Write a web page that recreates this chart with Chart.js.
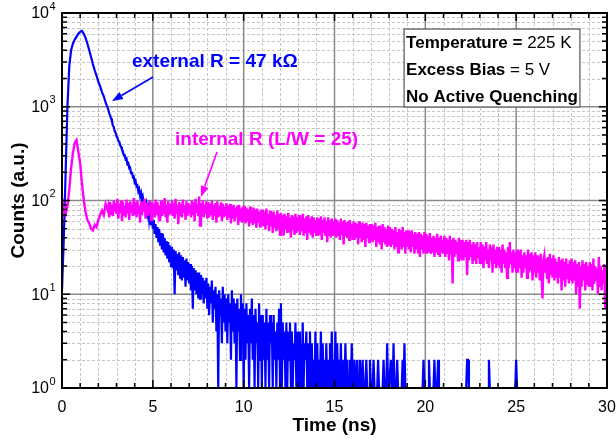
<!DOCTYPE html>
<html><head><meta charset="utf-8">
<script src="https://cdn.jsdelivr.net/npm/chart.js@4.4.0/dist/chart.umd.min.js"></script>
<style>html,body{margin:0;padding:0;background:#fff}canvas{display:block}</style>
</head><body>
<canvas id="c" width="616" height="443"></canvas>
<script>
const FONT = "'Liberation Sans', Arial, Helvetica, sans-serif";

// sample times (ns): 0.1 ns steps up to 2.5 ns, then 0.05 ns steps
const timeNs = [
0,0.1,0.2,0.3,0.4,0.5,0.6,0.7,0.8,0.9,
1,1.1,1.2,1.3,1.4,1.5,1.6,1.7,1.8,1.9,
2,2.1,2.2,2.3,2.4,2.5,
2.55,2.6,2.65,2.7,2.75,2.8,2.85,2.9,2.95,3,
3.05,3.1,3.15,3.2,3.25,3.3,3.35,3.4,3.45,3.5,3.55,3.6,3.65,3.7,3.75,3.8,3.85,3.9,3.95,4,
4.05,4.1,4.15,4.2,4.25,4.3,4.35,4.4,4.45,4.5,4.55,4.6,4.65,4.7,4.75,4.8,4.85,4.9,4.95,5,
5.05,5.1,5.15,5.2,5.25,5.3,5.35,5.4,5.45,5.5,5.55,5.6,5.65,5.7,5.75,5.8,5.85,5.9,5.95,6,
6.05,6.1,6.15,6.2,6.25,6.3,6.35,6.4,6.45,6.5,6.55,6.6,6.65,6.7,6.75,6.8,6.85,6.9,6.95,7,
7.05,7.1,7.15,7.2,7.25,7.3,7.35,7.4,7.45,7.5,7.55,7.6,7.65,7.7,7.75,7.8,7.85,7.9,7.95,8,
8.05,8.1,8.15,8.2,8.25,8.3,8.35,8.4,8.45,8.5,8.55,8.6,8.65,8.7,8.75,8.8,8.85,8.9,8.95,9,
9.05,9.1,9.15,9.2,9.25,9.3,9.35,9.4,9.45,9.5,9.55,9.6,9.65,9.7,9.75,9.8,9.85,9.9,9.95,10,
10.05,10.1,10.15,10.2,10.25,10.3,10.35,10.4,10.45,10.5,10.55,10.6,10.65,10.7,10.75,10.8,10.85,10.9,10.95,11,
11.05,11.1,11.15,11.2,11.25,11.3,11.35,11.4,11.45,11.5,11.55,11.6,11.65,11.7,11.75,11.8,11.85,11.9,11.95,12,
12.05,12.1,12.15,12.2,12.25,12.3,12.35,12.4,12.45,12.5,12.55,12.6,12.65,12.7,12.75,12.8,12.85,12.9,12.95,13,
13.05,13.1,13.15,13.2,13.25,13.3,13.35,13.4,13.45,13.5,13.55,13.6,13.65,13.7,13.75,13.8,13.85,13.9,13.95,14,
14.05,14.1,14.15,14.2,14.25,14.3,14.35,14.4,14.45,14.5,14.55,14.6,14.65,14.7,14.75,14.8,14.85,14.9,14.95,15,
15.05,15.1,15.15,15.2,15.25,15.3,15.35,15.4,15.45,15.5,15.55,15.6,15.65,15.7,15.75,15.8,15.85,15.9,15.95,16,
16.05,16.1,16.15,16.2,16.25,16.3,16.35,16.4,16.45,16.5,16.55,16.6,16.65,16.7,16.75,16.8,16.85,16.9,16.95,17,
17.05,17.1,17.15,17.2,17.25,17.3,17.35,17.4,17.45,17.5,17.55,17.6,17.65,17.7,17.75,17.8,17.85,17.9,17.95,18,
18.05,18.1,18.15,18.2,18.25,18.3,18.35,18.4,18.45,18.5,18.55,18.6,18.65,18.7,18.75,18.8,18.85,18.9,18.95,19,
19.05,19.1,19.15,19.2,19.25,19.3,19.35,19.4,19.45,19.5,19.55,19.6,19.65,19.7,19.75,19.8,19.85,19.9,19.95,20,
20.05,20.1,20.15,20.2,20.25,20.3,20.35,20.4,20.45,20.5,20.55,20.6,20.65,20.7,20.75,20.8,20.85,20.9,20.95,21,
21.05,21.1,21.15,21.2,21.25,21.3,21.35,21.4,21.45,21.5,21.55,21.6,21.65,21.7,21.75,21.8,21.85,21.9,21.95,22,
22.05,22.1,22.15,22.2,22.25,22.3,22.35,22.4,22.45,22.5,22.55,22.6,22.65,22.7,22.75,22.8,22.85,22.9,22.95,23,
23.05,23.1,23.15,23.2,23.25,23.3,23.35,23.4,23.45,23.5,23.55,23.6,23.65,23.7,23.75,23.8,23.85,23.9,23.95,24,
24.05,24.1,24.15,24.2,24.25,24.3,24.35,24.4,24.45,24.5,24.55,24.6,24.65,24.7,24.75,24.8,24.85,24.9,24.95,25,
25.05,25.1,25.15,25.2,25.25,25.3,25.35,25.4,25.45,25.5,25.55,25.6,25.65,25.7,25.75,25.8,25.85,25.9,25.95,26,
26.05,26.1,26.15,26.2,26.25,26.3,26.35,26.4,26.45,26.5,26.55,26.6,26.65,26.7,26.75,26.8,26.85,26.9,26.95,27,
27.05,27.1,27.15,27.2,27.25,27.3,27.35,27.4,27.45,27.5,27.55,27.6,27.65,27.7,27.75,27.8,27.85,27.9,27.95,28,
28.05,28.1,28.15,28.2,28.25,28.3,28.35,28.4,28.45,28.5,28.55,28.6,28.65,28.7,28.75,28.8,28.85,28.9,28.95,29,
29.05,29.1,29.15,29.2,29.25,29.3,29.35,29.4,29.45,29.5,29.55,29.6,29.65,29.7,29.75,29.8,29.85,29.9,29.95,30];

// external R = 47 kOhm (counts; points sitting on the bottom edge read as 1)
const externalR = [
11,40,200,1000,2700,4000,4700,5200,5600,6000,
6300,6450,6000,5400,4700,4000,3400,2850,2450,2150,
1850,1650,1430,1290,1110,990,
930,850,810,750,700,630,610,550,530,485,
470,430,425,390,375,350,335,305,305,275,280,245,250,222,225,196,202,178,180,156,
162,142,145,125,132,112,120,100,108,92,96,80,90,72,82,62,74,56,66,50,
62,44,56,40,52,36,50,33,45,30,44,28,40,26,37,24,36,22,33,20,
32,19,30,10,29,18,27,16,28,15,26,14,25,15,23,12,24,14,22,13,
21,11,20,7,19,11,18,10,17,9,17,9,16,10,15,8,14,9,15,7,
13,6,12,8,14,5,11,7,12,4,10,1,11,6,9,3,12,5,10,4,
9,3,10,5,8,2,11,4,9,3,8,1,9,4,7,2,10,3,8,1,
7,2,8,3,6,1,7,3,9,2,6,1,7,3,5,1,8,2,6,1,
6,2,5,1,7,2,5,1,6,3,5,1,6,2,4,1,5,2,7,1,
8,1,5,2,4,1,5,1,4,2,5,1,4,1,3,2,5,1,4,1,
4,1,3,1,5,1,3,2,4,1,3,1,4,1,3,1,2,1,4,1,
3,1,2,1,4,1,3,1,2,1,3,1,2,1,3,1,4,1,2,1,
4,1,3,1,2,1,3,1,1,2,1,3,1,2,1,1,2,1,3,1,
1,2,1,1,2,1,1,2,1,1,2,1,1,1,2,1,1,1,2,1,
1,1,2,1,1,1,1,2,1,1,1,1,1,2,1,1,1,3,1,1,
1,2,1,1,3,1,1,1,2,1,1,1,1,1,2,1,3,1,1,1,
1,1,1,1,1,1,1,1,1,1,1,1,1,1,1,1,1,2,1,1,
1,1,1,2,1,1,1,1,1,2,1,1,1,2,1,1,1,1,1,1,
1,1,1,1,1,1,1,1,1,1,1,1,1,1,1,1,1,1,1,1,
1,1,1,1,1,2,2,1,1,1,1,1,1,1,1,1,1,1,1,1,
1,1,1,1,1,1,1,1,1,2,1,1,1,1,1,1,1,1,1,1,
1,1,1,1,1,1,1,1,1,1,1,1,1,1,1,1,1,1,1,2,
1,1,1,1,1,1,1,1,1,1,1,1,1,1,1,1,1,1,1,1,
1,1,1,1,1,1,1,1,1,1,1,1,1,1,1,1,1,1,1,1,
1,1,1,1,1,1,1,1,1,1,1,1,1,1,1,1,1,1,1,1,
1,1,1,1,1,1,1,1,1,1,1,1,1,1,1,1,1,1,1,1,
1,1,1,1,1,1,1,1,1,1,1,1,1,1,1,1,1,1,1,1];

// internal R (L/W = 25)
const internalR = [
65,90,72,88,130,220,320,410,440,330,
250,150,100,75,62,57,50,48,55,52,
62,70,78,70,92,80,
88,66,96,72,90,68,100,76,94,72,
104,64,92,74,100,60,96,70,88,66,102,72,94,62,98,76,90,68,106,70,
96,66,100,72,88,58,98,70,92,76,104,64,94,68,90,72,100,62,96,74,
92,66,102,70,96,74,88,60,100,68,94,72,106,66,90,58,98,70,92,74,
100,68,94,64,104,72,90,56,96,70,92,66,102,74,88,62,98,68,94,72,
90,66,100,70,96,60,104,74,92,68,110,54,94,70,100,66,90,72,98,64,
96,66,92,70,100,62,90,68,94,58,98,66,88,70,96,60,92,66,86,68,
94,62,88,66,92,57,86,64,90,60,84,66,88,55,90,62,82,58,86,60,
88,57,84,60,80,53,86,58,78,55,84,57,80,51,82,58,76,53,80,55,
80,53,76,49,82,55,72,47,78,53,74,45,76,51,70,47,78,49,72,43,
74,47,70,42,72,49,68,45,74,47,66,40,70,49,68,43,72,45,66,47,
70,43,66,47,72,42,64,45,68,38,70,47,64,43,68,40,66,45,62,42,
66,42,64,43,68,38,62,45,66,42,60,36,66,43,62,40,64,42,60,43,
64,40,62,42,58,38,64,43,60,34,62,42,58,40,60,38,62,42,56,38,
60,38,58,40,56,34,60,40,54,36,58,38,56,32,58,40,54,36,56,38,
56,36,54,38,58,32,52,36,54,34,50,30,56,36,52,34,50,32,54,34,
52,32,50,34,48,30,52,32,46,28,50,34,48,30,52,32,46,27,48,32,
48,30,46,28,48,32,44,27,46,30,44,28,46,25,44,30,42,27,46,28,
44,27,42,28,45,27,40,28,42,25,40,28,44,27,40,25,42,28,38,27,
42,25,40,27,38,23,42,27,38,13,40,25,38,27,36,23,40,25,38,23,
38,23,36,25,38,16,36,23,38,25,34,21,36,23,34,21,36,25,32,21,
36,21,34,19,32,23,36,21,30,19,34,23,32,17,34,21,30,19,32,21,
32,19,30,17,34,21,30,19,28,15,32,19,36,21,28,17,30,19,28,17,
30,17,28,19,30,15,26,17,28,19,26,15,30,17,27,18,28,14,26,17,
28,15,26,17,25,14,27,16,9,23,26,17,24,15,25,13,27,16,24,15,
26,14,24,15,22,13,25,15,23,11,24,14,22,12,24,15,21,13,23,14,
24,13,22,14,23,10,21,12,22,7,20,12,23,14,21,11,22,13,20,12,
22,12,21,11,24,13,20,14,19,10,25,12,20,11,18,13,21,7,20,14];

const xTickValues = [0, 5, 10, 15, 20, 25, 30];
const yTickValues = [1, 10, 100, 1000, 10000];
const yTickExponents = ['0', '1', '2', '3', '4'];

const labelExternal = 'external R = 47 kΩ';
const labelInternal = 'internal R (L/W = 25)';
const boxLines = [
  [['Temperature =', true], [' 225 K', false]],
  [['Excess Bias', true], [' = 5 V', false]],
  [['No Active Quenching', true]]
];

function arrow(ctx, x0, y0, x1, y1, color) {
  ctx.strokeStyle = color; ctx.fillStyle = color; ctx.lineWidth = 1.6;
  const ang = Math.atan2(y1 - y0, x1 - x0), hl = 11, hw = 4;
  const bx = x1 - hl * Math.cos(ang), by = y1 - hl * Math.sin(ang);
  ctx.beginPath(); ctx.moveTo(x0, y0); ctx.lineTo(bx, by); ctx.stroke();
  ctx.beginPath(); ctx.moveTo(x1, y1);
  ctx.lineTo(bx + hw * Math.sin(ang), by - hw * Math.cos(ang));
  ctx.lineTo(bx - hw * Math.sin(ang), by + hw * Math.cos(ang));
  ctx.closePath(); ctx.fill();
}

const decor = {
  id: 'decor',
  beforeDatasetsDraw(chart) {
    const {ctx, chartArea: a, scales: {x, y}} = chart;
    ctx.save();
    ctx.lineWidth = 1; ctx.strokeStyle = '#c6c6c6'; ctx.setLineDash([3, 2]);
    ctx.beginPath();
    for (let t = 1; t < 30; t++) {
      if (t % 5 === 0) continue;
      const px = Math.round(x.getPixelForValue(t)) + 0.5;
      ctx.moveTo(px, a.top); ctx.lineTo(px, a.bottom);
    }
    for (let k = 0; k < 4; k++) for (let m = 2; m <= 9; m++) {
      const py = Math.round(y.getPixelForValue(m * Math.pow(10, k))) + 0.5;
      ctx.moveTo(a.left, py); ctx.lineTo(a.right, py);
    }
    ctx.stroke();
    ctx.setLineDash([]);
    ctx.strokeStyle = '#8a8a8a'; ctx.lineWidth = 1.5;
    ctx.beginPath();
    xTickValues.slice(1, -1).forEach(t => { const px = x.getPixelForValue(t); ctx.moveTo(px, a.top); ctx.lineTo(px, a.bottom); });
    yTickValues.slice(1, -1).forEach(v => { const py = y.getPixelForValue(v); ctx.moveTo(a.left, py); ctx.lineTo(a.right, py); });
    ctx.stroke();
    ctx.restore();
  },
  afterDatasetsDraw(chart) {
    const {ctx, chartArea: a, scales: {x, y}} = chart;
    ctx.save();
    ctx.strokeStyle = '#000'; ctx.lineWidth = 1.5;
    ctx.beginPath();
    for (let t = 0; t <= 30; t++) {
      const px = x.getPixelForValue(t), L = t % 5 === 0 ? 8 : 5;
      ctx.moveTo(px, a.bottom); ctx.lineTo(px, a.bottom - L);
      ctx.moveTo(px, a.top); ctx.lineTo(px, a.top + L);
    }
    for (let k = 0; k <= 4; k++) for (let m = 1; m <= 9; m++) {
      if (k === 4 && m > 1) break;
      const py = y.getPixelForValue(m * Math.pow(10, k)), L = m === 1 ? 8 : 5;
      ctx.moveTo(a.left, py); ctx.lineTo(a.left + L, py);
      ctx.moveTo(a.right, py); ctx.lineTo(a.right - L, py);
    }
    ctx.stroke();
    ctx.lineWidth = 2;
    ctx.strokeRect(a.left, a.top, a.right - a.left, a.bottom - a.top);

    ctx.fillStyle = '#000'; ctx.textBaseline = 'middle';
    yTickValues.forEach((v, i) => {
      const py = y.getPixelForValue(v);
      ctx.font = `16px ${FONT}`; ctx.textAlign = 'right';
      ctx.fillText('10', a.left - 13, py + 1);
      ctx.font = `11px ${FONT}`; ctx.textAlign = 'left';
      ctx.fillText(yTickExponents[i], a.left - 12.5, py - 6.5);
    });

    ctx.textAlign = 'left';
    ctx.font = `bold 19px ${FONT}`;
    ctx.fillStyle = '#0000ff';
    ctx.fillText(labelExternal, x.getPixelForValue(3.85), y.getPixelForValue(3000));
    arrow(ctx, x.getPixelForValue(5.01), y.getPixelForValue(2075), x.getPixelForValue(2.75), y.getPixelForValue(1151), '#0000ff');
    ctx.font = `bold 19px ${FONT}`;
    ctx.fillStyle = '#ff00ff';
    ctx.fillText(labelInternal, x.getPixelForValue(6.22), y.getPixelForValue(442));
    arrow(ctx, x.getPixelForValue(8.53), y.getPixelForValue(329), x.getPixelForValue(7.65), y.getPixelForValue(109), '#ff00ff');

    const bx0 = x.getPixelForValue(18.83), bx1 = x.getPixelForValue(28.51);
    const by0 = y.getPixelForValue(6746), by1 = y.getPixelForValue(994);
    ctx.fillStyle = '#fff'; ctx.fillRect(bx0, by0, bx1 - bx0, by1 - by0);
    ctx.strokeStyle = '#555'; ctx.lineWidth = 1.2; ctx.strokeRect(bx0, by0, bx1 - bx0, by1 - by0);
    const lineVals = [4786, 2467, 1271];
    ctx.fillStyle = '#000';
    boxLines.forEach((parts, i) => {
      let px = x.getPixelForValue(18.94);
      const py = y.getPixelForValue(lineVals[i]);
      parts.forEach(([txt, bold]) => {
        ctx.font = `${bold ? 'bold ' : ''}17px ${FONT}`;
        ctx.fillText(txt, px, py);
        px += ctx.measureText(txt).width;
      });
    });
    ctx.restore();
  }
};

new Chart(document.getElementById('c'), {
  type: 'line',
  data: {
    datasets: [
      { label: labelInternal, data: timeNs.map((t, i) => ({x: t, y: internalR[i]})),
        borderColor: '#ff00ff', borderWidth: 2.4, pointRadius: 0, tension: 0, order: 0 },
      { label: labelExternal, data: timeNs.map((t, i) => ({x: t, y: externalR[i]})),
        borderColor: '#0000ff', borderWidth: 2.2, pointRadius: 0, tension: 0, order: 1 }
    ]
  },
  options: {
    responsive: false, animation: false, devicePixelRatio: 1,
    layout: {padding: {top: 13, right: 9, left: 0, bottom: 0}},
    plugins: {legend: {display: false}, tooltip: {enabled: false}},
    scales: {
      x: {
        type: 'linear', min: 0, max: 30,
        grid: {display: false}, border: {display: false},
        ticks: {stepSize: 5, color: '#000', font: {family: FONT, size: 16}, padding: 2, maxRotation: 0},
        afterBuildTicks: s => { s.ticks = xTickValues.map(v => ({value: v})); },
        title: {display: true, text: 'Time (ns)', color: '#000', font: {family: FONT, size: 19, weight: 'bold'}, padding: {top: 0, bottom: 6}},
        afterFit: s => { s.height = 55; s.paddingLeft = 0; s.paddingRight = 0; }
      },
      y: {
        type: 'logarithmic', min: 1, max: 10000,
        grid: {display: false}, border: {display: false},
        ticks: {display: false},
        title: {display: true, text: 'Counts (a.u.)', color: '#000', font: {family: FONT, size: 19, weight: 'bold'}, padding: {top: 7, bottom: 0}},
        afterFit: s => { s.width = 62; }
      }
    }
  },
  plugins: [decor]
});
</script>
</body></html>
